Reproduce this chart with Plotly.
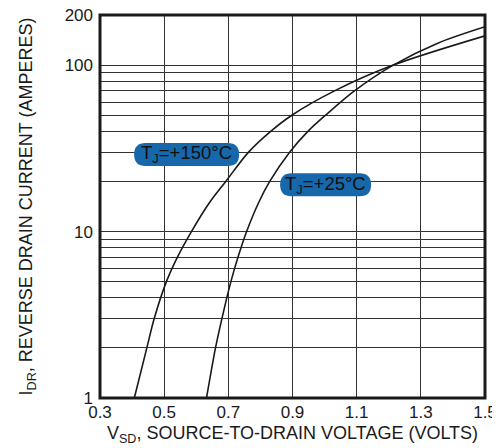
import plotly.graph_objects as go
import math

# ---- data ----
i_150 = [1, 2, 3, 5, 7, 10, 15, 20, 30, 40, 50, 70, 100, 150]
v_150 = [0.407, 0.446, 0.469, 0.507, 0.541, 0.585, 0.642, 0.692, 0.763, 0.832, 0.898, 1.031, 1.214, 1.500]

i_25 = [1, 2, 3, 5, 7, 10, 15, 20, 30, 40, 50, 70, 100, 135, 170]
v_25 = [0.632, 0.660, 0.680, 0.708, 0.730, 0.757, 0.795, 0.829, 0.891, 0.948, 1.003, 1.093, 1.214, 1.351, 1.500]

x_ticks = [0.3, 0.5, 0.7, 0.9, 1.1, 1.3, 1.5]
x_ticktext = ["0.3", "0.5", "0.7", "0.9", "1.1", "1.3", "1.5"]
y_grid = [1, 2, 3, 4, 5, 6, 7, 8, 9, 10, 20, 30, 40, 50, 60, 70, 80, 90, 100, 200]
y_labels = {1: "1", 10: "10", 100: "100", 200: "200"}

labels = [
    ("T<sub>J</sub>=+150°C", 0.225, 0.636, 105),
    ("T<sub>J</sub>=+25°C", 0.586, 0.557, 91),
]

FONT = "Liberation Sans, Arial, Helvetica, sans-serif"
BLUE = "#1767ab"

fig = go.Figure()
for v, i in [(v_150, i_150), (v_25, i_25)]:
    fig.add_trace(go.Scatter(x=v, y=i, mode="lines",
                             line=dict(color="#1a1a1a", width=1.6, shape="spline", smoothing=0.9),
                             showlegend=False, hoverinfo="skip"))

def pill(w, h):
    r = h / 2
    x0, x1 = -w / 2 + r, w / 2 - r
    return (f"M {x0},{-r} L {x1},{-r} Q {w/2},{-r} {w/2},0 Q {w/2},{r} {x1},{r} "
            f"L {x0},{r} Q {-w/2},{r} {-w/2},0 Q {-w/2},{-r} {x0},{-r} Z")

for text, xp, yp, w in labels:
    fig.add_shape(type="path", xref="paper", yref="paper",
                  xsizemode="pixel", ysizemode="pixel", xanchor=xp, yanchor=yp,
                  path=pill(w, 23), fillcolor=BLUE, line=dict(width=0), layer="above")
    fig.add_annotation(x=xp, y=yp, xref="paper", yref="paper", text=text, showarrow=False,
                       font=dict(family=FONT, size=18.5, color="#111"), xanchor="center", yanchor="middle")

# frame
fig.add_shape(type="rect", xref="paper", yref="paper", x0=0, y0=0, x1=1, y1=1,
              line=dict(color="#1a1a1a", width=3), layer="above")

fig.update_layout(
    width=492, height=440,
    margin=dict(l=92, r=15, t=7, b=50),
    paper_bgcolor="white", plot_bgcolor="white",
    font=dict(family=FONT, color="#1a1a1a"),
    xaxis=dict(range=[0.3, 1.5], tickvals=x_ticks, ticktext=x_ticktext, automargin=False,
               showgrid=True, gridcolor="#333", gridwidth=1, zeroline=False,
               showline=False, ticks="", tickfont=dict(size=17), ticklabelstandoff=2,
               ticklabeloverflow="allow",
               title=dict(text="V<sub>SD</sub>, SOURCE-TO-DRAIN VOLTAGE (VOLTS)",
                          font=dict(size=18), standoff=5)),
    yaxis=dict(type="log", range=[0, math.log10(200)], tickvals=y_grid, automargin=False,
               ticktext=[y_labels.get(v, "") for v in y_grid],
               showgrid=True, gridcolor="#333", gridwidth=1, zeroline=False,
               showline=False, ticks="", tickfont=dict(size=17), ticklabelstandoff=6,
               ticklabeloverflow="allow",
               title=dict(text="I<sub>DR</sub>, REVERSE DRAIN CURRENT (AMPERES)",
                          font=dict(size=18), standoff=27)),
)

fig.write_html("out.html")
